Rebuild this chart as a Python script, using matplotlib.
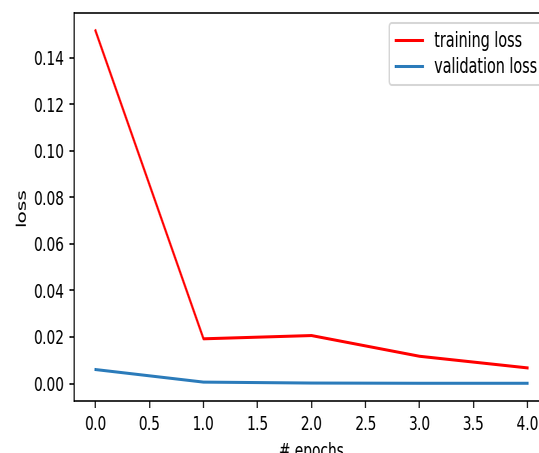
"""Training / validation loss curve over epochs."""

import io

import matplotlib
matplotlib.use("Agg")
import matplotlib.pyplot as plt
from PIL import Image

epochs = [0, 1, 2, 3, 4]
train_loss = [0.1515, 0.0192, 0.0206, 0.0117, 0.0067]
val_loss = [0.0060, 0.0006, 0.0002, 0.0001, 0.0001]

OUT_W, OUT_H = 539, 453
SQUEEZE = 0.68  # horizontal compression applied to the rendered figure
DPI = 145


def main():
    wide_w = OUT_W / SQUEEZE
    fig = plt.figure(figsize=(wide_w / DPI, OUT_H / DPI), dpi=DPI)
    ax = fig.add_axes([0.137, 0.115, 0.881, 0.856])

    ax.plot(epochs, train_loss, color="red", label="training loss")
    ax.plot(epochs, val_loss, color="#2b7bba", label="validation loss")
    ax.set_xlabel("# epochs")
    ax.set_ylabel("loss")
    ax.legend(loc="upper right", fontsize=10.5, labelspacing=0.28,
              borderaxespad=0.45, handlelength=1.9)

    buf = io.BytesIO()
    fig.savefig(buf, format="png", dpi=DPI, facecolor="white")
    plt.close(fig)
    buf.seek(0)
    img = Image.open(buf).convert("RGB")
    img = img.resize((OUT_W, OUT_H), Image.LANCZOS)
    img.save("out.png")


if __name__ == "__main__":
    main()
